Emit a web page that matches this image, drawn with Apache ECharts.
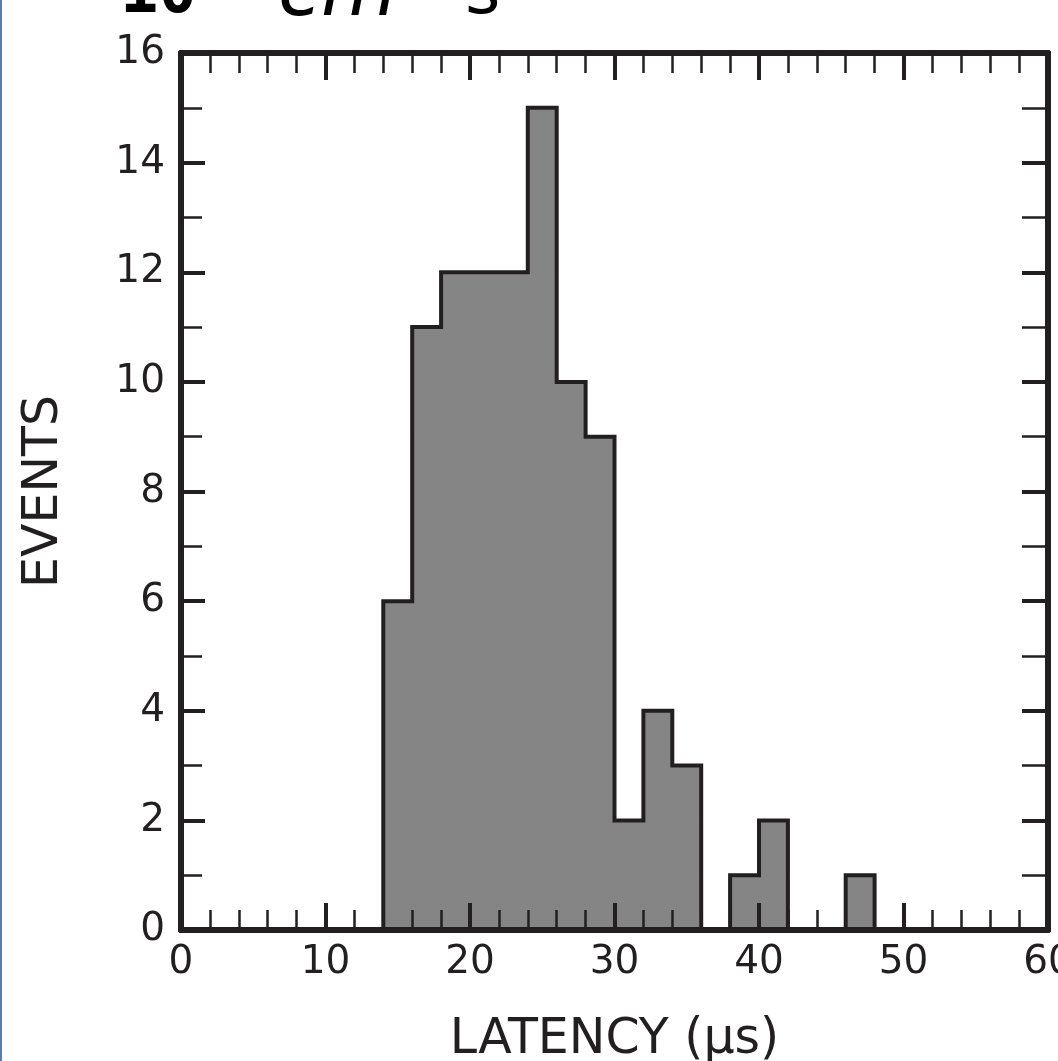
<!DOCTYPE html>
<html>
<head>
<meta charset="utf-8">
<script src="https://cdn.jsdelivr.net/npm/echarts@6/dist/echarts.min.js"></script>
<style>
  html, body { margin: 0; padding: 0; background: #fff; }
  #chart { width: 1058px; height: 1061px; }
</style>
</head>
<body>
<div id="chart"></div>
<script>
// 直方图数据：每个柱宽 2 µs，binStarts 为每个柱的左边界
const binStarts = [0, 2, 4, 6, 8, 10, 12, 14, 16, 18, 20, 22, 24, 26, 28,
  30, 32, 34, 36, 38, 40, 42, 44, 46, 48, 50, 52, 54, 56, 58];
const eventCounts = [0, 0, 0, 0, 0, 0, 0, 6, 11, 12, 12, 12, 15, 10, 9,
  2, 4, 3, 0, 1, 2, 0, 0, 1, 0, 0, 0, 0, 0, 0];
const lastEdge = 60;

const xRange = [0, 60];
const xStep = 10;
const yRange = [0, 16];
const yStep = 2;

const inkColor = "#231f20";
const fillColor = "#858585";

// 阶梯线的点：左边界 + 计数，最后补一个右边界
const stepPoints = binStarts.map((x, i) => [x, eventCounts[i]]);
stepPoints.push([lastEdge, eventCounts[eventCounts.length - 1]]);

const axisLine = { show: true, onZero: false, lineStyle: { color: inkColor, width: 6 } };

function xAxisOf(position, showLabel) {
  return {
    type: "value",
    position: position,
    min: xRange[0],
    max: xRange[1],
    interval: xStep,
    z: 5,
    axisLine: axisLine,
    axisTick: { show: true, inside: true, length: 27, lineStyle: { color: inkColor, width: 4 } },
    minorTick: { show: true, splitNumber: 5, length: 20, lineStyle: { color: inkColor, width: 2.5 } },
    splitLine: { show: false },
    axisLabel: {
      show: showLabel,
      margin: 13,
      color: inkColor,
      fontFamily: "DejaVu Sans",
      fontSize: 39,
    },
  };
}

function yAxisOf(position, showLabel, tickLen, minorLen) {
  return {
    type: "value",
    position: position,
    min: yRange[0],
    max: yRange[1],
    interval: yStep,
    z: 5,
    axisLine: axisLine,
    axisTick: { show: true, inside: true, length: tickLen, lineStyle: { color: inkColor, width: 4 } },
    minorTick: { show: true, splitNumber: 2, length: minorLen, lineStyle: { color: inkColor, width: 2.5 } },
    splitLine: { show: false },
    axisLabel: {
      show: showLabel,
      margin: 16,
      color: inkColor,
      fontFamily: "DejaVu Sans",
      fontSize: 39,
    },
  };
}

const bottomX = xAxisOf("bottom", true);
bottomX.name = "LATENCY (µs)";
bottomX.nameLocation = "middle";
bottomX.nameGap = 86;
bottomX.nameTextStyle = { color: inkColor, fontFamily: "DejaVu Sans", fontSize: 49 };

const leftY = yAxisOf("left", true, 24, 21);
leftY.name = "EVENTS";
leftY.nameLocation = "middle";
leftY.nameGap = 112;
leftY.nameRotate = 90;
leftY.nameTextStyle = { color: inkColor, fontFamily: "DejaVu Sans", fontSize: 49 };

const option = {
  animation: false,
  backgroundColor: "#ffffff",
  grid: { left: 181, right: 10, top: 53, bottom: 131, containLabel: false, outerBoundsMode: "none" },
  graphic: [
    { type: "rect", shape: { x: 0, y: 0, width: 2, height: 1061 }, style: { fill: "#5b7fa6" } },
    // 顶部被裁掉的标题残片
    { type: "text", x: 120, y: -5, style: { text: "10", fill: "#000", font: "bold 64px 'DejaVu Sans Mono'", verticalAlign: "middle" } },
    { type: "text", x: 278, y: -5, style: { text: "cm", fill: "#000", font: "italic 78px 'DejaVu Sans'", verticalAlign: "middle" } },
    { type: "text", x: 465, y: -5, style: { text: "s", fill: "#000", font: "68px 'DejaVu Sans'", verticalAlign: "middle" } },
  ],
  xAxis: [bottomX, xAxisOf("top", false)],
  yAxis: [leftY, yAxisOf("right", false, 26, 26)],
  series: [
    {
      name: "events",
      type: "line",
      step: "end",
      xAxisIndex: 0,
      yAxisIndex: 0,
      symbol: "none",
      z: 2,
      lineStyle: { color: inkColor, width: 4, join: "miter" },
      areaStyle: { color: fillColor, opacity: 1 },
      data: stepPoints,
    },
  ],
};

const myChart = echarts.init(document.getElementById("chart"));
myChart.setOption(option);
</script>
</body>
</html>
